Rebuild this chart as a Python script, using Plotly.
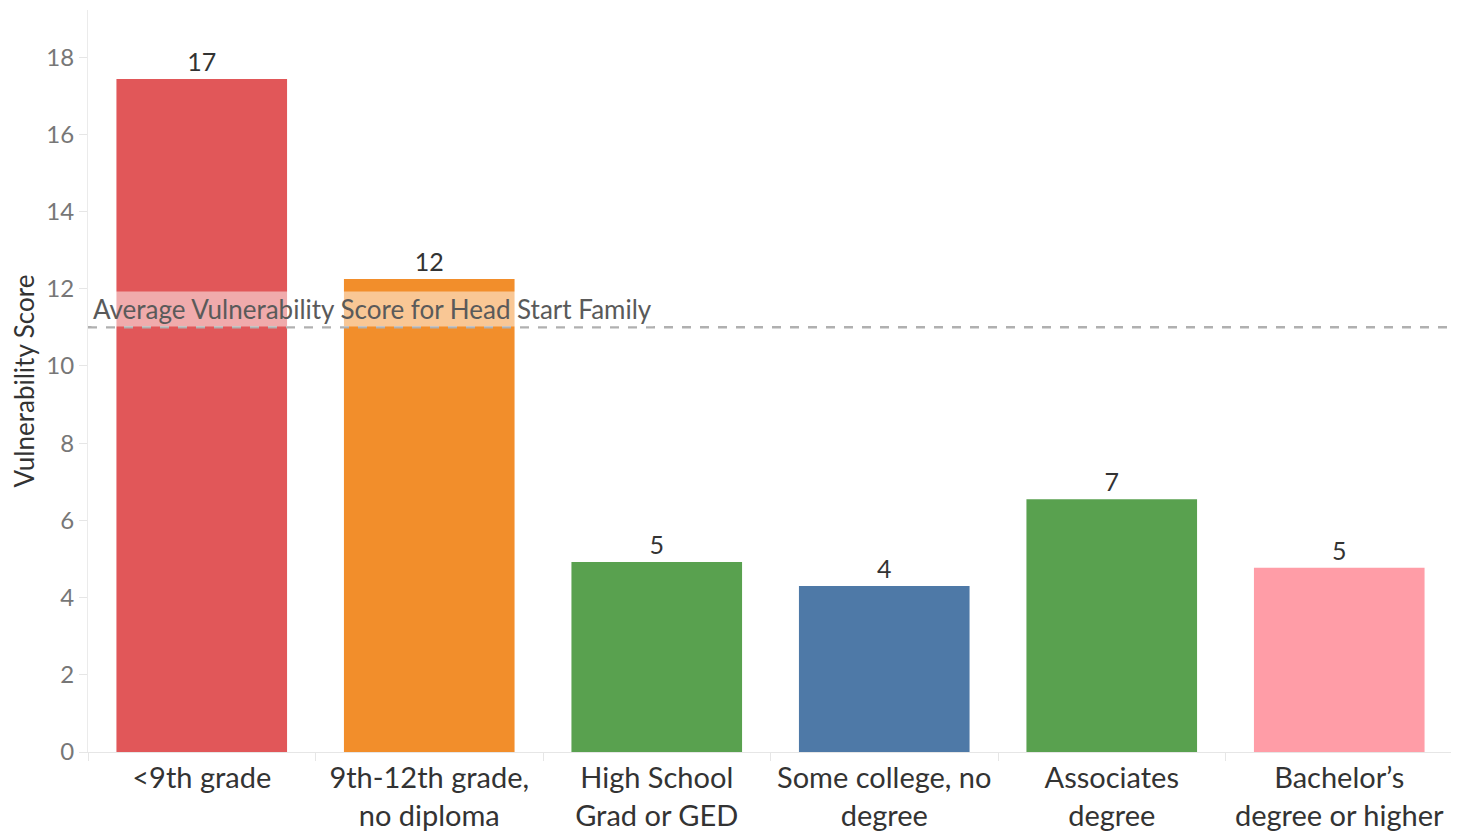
import plotly.graph_objects as go

categories = ["<9th grade", "9th-12th grade,<br>no diploma", "High School<br>Grad or GED",
              "Some college, no<br>degree", "Associates<br>degree", "Bachelor’s<br>degree or higher"]
values = [17.43, 12.25, 4.92, 4.30, 6.55, 4.77]
labels = ["17", "12", "5", "4", "7", "5"]
colors = ["#E15759", "#F28E2B", "#59A14F", "#4E79A7", "#59A14F", "#FF9DA7"]
average = 11.0
avg_label = "Average Vulnerability Score for Head Start Family"
y_ticks = [0, 2, 4, 6, 8, 10, 12, 14, 16, 18]

FONT = "Lato"

fig = go.Figure()
fig.add_trace(go.Bar(
    x=categories, y=values, marker=dict(color=colors, line=dict(width=0)),
    text=labels, textposition="outside", cliponaxis=False,
    textfont=dict(family=FONT, size=25, color="#333333"),
    width=0.75, hoverinfo="skip",
))

fig.add_shape(type="line", xref="paper", yref="y", x0=0, x1=1, y0=average, y1=average,
              line=dict(color="#b0b0b0", width=2.5, dash="dash"), layer="above")

fig.add_annotation(xref="paper", yref="y", x=0, y=average, xanchor="left", yanchor="bottom",
                   text=avg_label, showarrow=False, xshift=3, yshift=0,
                   font=dict(family=FONT, size=26, color="#5a5a5a"),
                   bgcolor="rgba(255,255,255,0.5)", borderpad=1)

# page body adds an 8px offset, so margins are shifted accordingly
fig.update_layout(
    width=1459, height=836,
    margin=dict(l=80, r=14, t=2, b=92),
    paper_bgcolor="white", plot_bgcolor="white",
    showlegend=False, bargap=0.25,
    font=dict(family=FONT),
    xaxis=dict(
        showgrid=False, tickson="boundaries", ticks="outside", ticklen=8,
        tickcolor="#e6e6e6", showline=True, linecolor="#e6e6e6", linewidth=1,
        tickfont=dict(family=FONT, size=29, color="#333333"), tickangle=0,
        automargin=False, fixedrange=True,
    ),
    yaxis=dict(
        range=[0, 19.22], tickvals=y_ticks, showgrid=False, zeroline=False,
        ticks="outside", ticklen=8, tickcolor="#e6e6e6",
        showline=True, linecolor="#ebebeb", linewidth=1,
        tickfont=dict(family=FONT, size=24, color="#777777"),
        title=dict(text="Vulnerability Score", font=dict(family=FONT, size=26, color="#333333"),
                   standoff=6),
        automargin=False, fixedrange=True,
    ),
)

fig.write_html("out.html")
